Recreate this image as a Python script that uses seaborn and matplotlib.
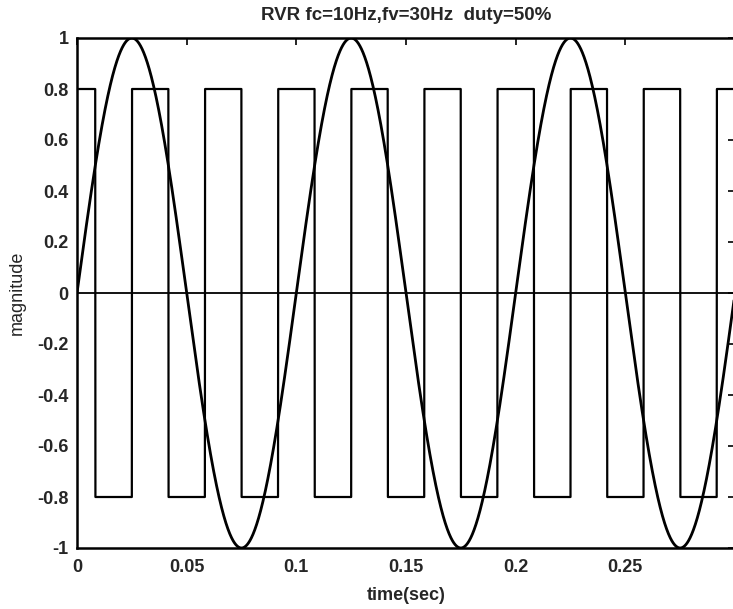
import numpy as np
import pandas as pd
import matplotlib
matplotlib.use("Agg")
import matplotlib.pyplot as plt
import seaborn as sns

# Signal parameters (as stated in the title)
carrier_freq = 10.0      # Hz, sine reference
carrier_amp = 1.0
switch_freq = 30.0       # Hz, square switching wave
switch_amp = 0.8
duty = 0.5
t_end = 0.3

x_ticks = [0, 0.05, 0.1, 0.15, 0.2, 0.25]
x_tick_labels = ["0", "0.05", "0.1", "0.15", "0.2", "0.25"]
y_ticks = [1, 0.8, 0.6, 0.4, 0.2, 0, -0.2, -0.4, -0.6, -0.8, -1]
y_tick_labels = ["1", "0.8", "0.6", "0.4", "0.2", "0", "-0.2", "-0.4", "-0.6", "-0.8", "-1"]

t = np.linspace(0, t_end, 6001)
sine = carrier_amp * np.sin(2 * np.pi * carrier_freq * t)
phase = (t * switch_freq + duty / 2) % 1.0
square = np.where(phase < duty, switch_amp, -switch_amp)
zero = np.zeros_like(t)

df = pd.DataFrame({"t": t, "sine": sine, "square": square, "zero": zero})

sns.set_style("white")
plt.rcParams["font.family"] = ["Liberation Sans", "DejaVu Sans"]

fig = plt.figure(figsize=(7.33, 6.09), dpi=100)
ax = fig.add_axes([77 / 733, 61 / 609, 658 / 733, 510 / 609])

sns.lineplot(data=df, x="t", y="square", ax=ax, color="black", lw=1.6,
             estimator=None, sort=False)
sns.lineplot(data=df, x="t", y="sine", ax=ax, color="black", lw=2.0,
             estimator=None, sort=False)
sns.lineplot(data=df, x="t", y="zero", ax=ax, color="black", lw=1.3,
             estimator=None, sort=False)

ax.set_xlim(0, t_end)
ax.set_ylim(-1, 1)
ax.set_xticks(x_ticks)
ax.set_xticklabels(x_tick_labels, fontsize=13, fontweight="bold")
ax.set_yticks(y_ticks)
ax.set_yticklabels(y_tick_labels, fontsize=13, fontweight="bold")
ax.tick_params(axis="x", pad=8)
ax.tick_params(axis="y", pad=6)
ax.tick_params(direction="in", length=5, width=1.2, top=True, right=True,
               color="black")

for side in ["left", "right", "top", "bottom"]:
    ax.spines[side].set_visible(True)
    ax.spines[side].set_color("black")
    ax.spines[side].set_linewidth(1.8)

ax.set_title("RVR fc=10Hz,fv=30Hz  duty=50%", fontsize=13.5, fontweight="bold", pad=13)
ax.set_xlabel("time(sec)", fontsize=13, fontweight="bold", labelpad=8)
ax.set_ylabel("magnitude", fontsize=13, labelpad=8)

fig.savefig("out.png", dpi=100, facecolor="white")
